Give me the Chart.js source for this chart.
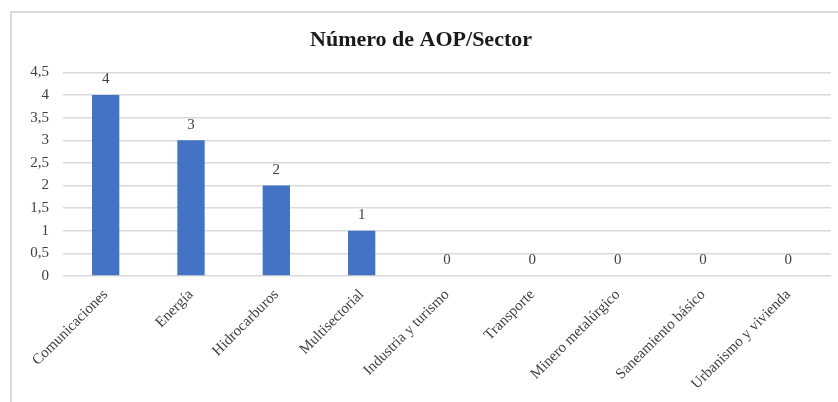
<!DOCTYPE html>
<html>
<head>
<meta charset="utf-8">
<script src="https://cdn.jsdelivr.net/npm/chart.js@4"></script>
<style>
  body { margin: 0; background: #fff; }
  #wrap { position: absolute; left: 0; top: 0; width: 838px; height: 402px; }
  #frame { position: absolute; left: 10px; top: 11px; width: 828px; height: 391px;
           border-left: 2px solid #d9d9d9; border-top: 2px solid #d9d9d9; }
</style>
</head>
<body>
<div id="wrap">
  <div id="frame"></div>
  <canvas id="sectorChart" width="838" height="402"></canvas>
</div>
<script>
const sectores = ["Comunicaciones", "Energía", "Hidrocarburos", "Multisectorial",
  "Industria y turismo", "Transporte", "Minero metalúrgico", "Saneamiento básico", "Urbanismo y vivienda"];
const numeroAOP = [4, 3, 2, 1, 0, 0, 0, 0, 0];
const yTicks = [0, 0.5, 1, 1.5, 2, 2.5, 3, 3.5, 4, 4.5];

const serif = "'Liberation Serif', 'DejaVu Serif', serif";

// draw the value above each bar
const valueLabels = {
  id: "valueLabels",
  afterDatasetsDraw(chart) {
    const ctx = chart.ctx;
    const meta = chart.getDatasetMeta(0);
    ctx.save();
    ctx.fillStyle = "#404040";
    ctx.font = "15px " + serif;
    ctx.textAlign = "center";
    ctx.textBaseline = "bottom";
    meta.data.forEach((bar, i) => {
      ctx.fillText(String(chart.data.datasets[0].data[i]), bar.x, bar.y - 8);
    });
    ctx.restore();
  }
};

new Chart(document.getElementById("sectorChart"), {
  type: "bar",
  data: {
    labels: sectores,
    datasets: [{
      label: "Número de AOP",
      data: numeroAOP,
      backgroundColor: "#4472C4",
      barPercentage: 0.32,
      categoryPercentage: 1,
    }],
  },
  options: {
    responsive: false,
    animation: false,
    layout: { padding: { left: 11, right: 7, top: 12, bottom: 4 } },
    plugins: {
      legend: { display: false },
      tooltip: { enabled: false },
      title: {
        display: true,
        text: "Número de AOP/Sector",
        color: "#1a1a1a",
        font: { family: serif, size: 22, weight: "bold" },
        padding: { top: 15, bottom: 19 },
      },
    },
    scales: {
      x: {
        grid: { display: false },
        border: { display: false },
        ticks: {
          color: "#404040",
          font: { family: serif, size: 15 },
          minRotation: 45,
          maxRotation: 45,
          padding: 2,
        },
        afterFit: (s) => { s.height = 122; },
      },
      y: {
        min: 0,
        max: 4.5,
        border: { display: false },
        grid: { color: "#d9d9d9", lineWidth: 1.5, drawTicks: false },
        afterBuildTicks: (s) => { s.ticks = yTicks.map((v) => ({ value: v })); },
        ticks: {
          color: "#404040",
          font: { family: serif, size: 15 },
          padding: 14,
          callback: (v) => String(v).replace(".", ","),
        },
        afterFit: (s) => { s.width = 52; },
      },
    },
  },
  plugins: [valueLabels],
});
</script>
</body>
</html>
